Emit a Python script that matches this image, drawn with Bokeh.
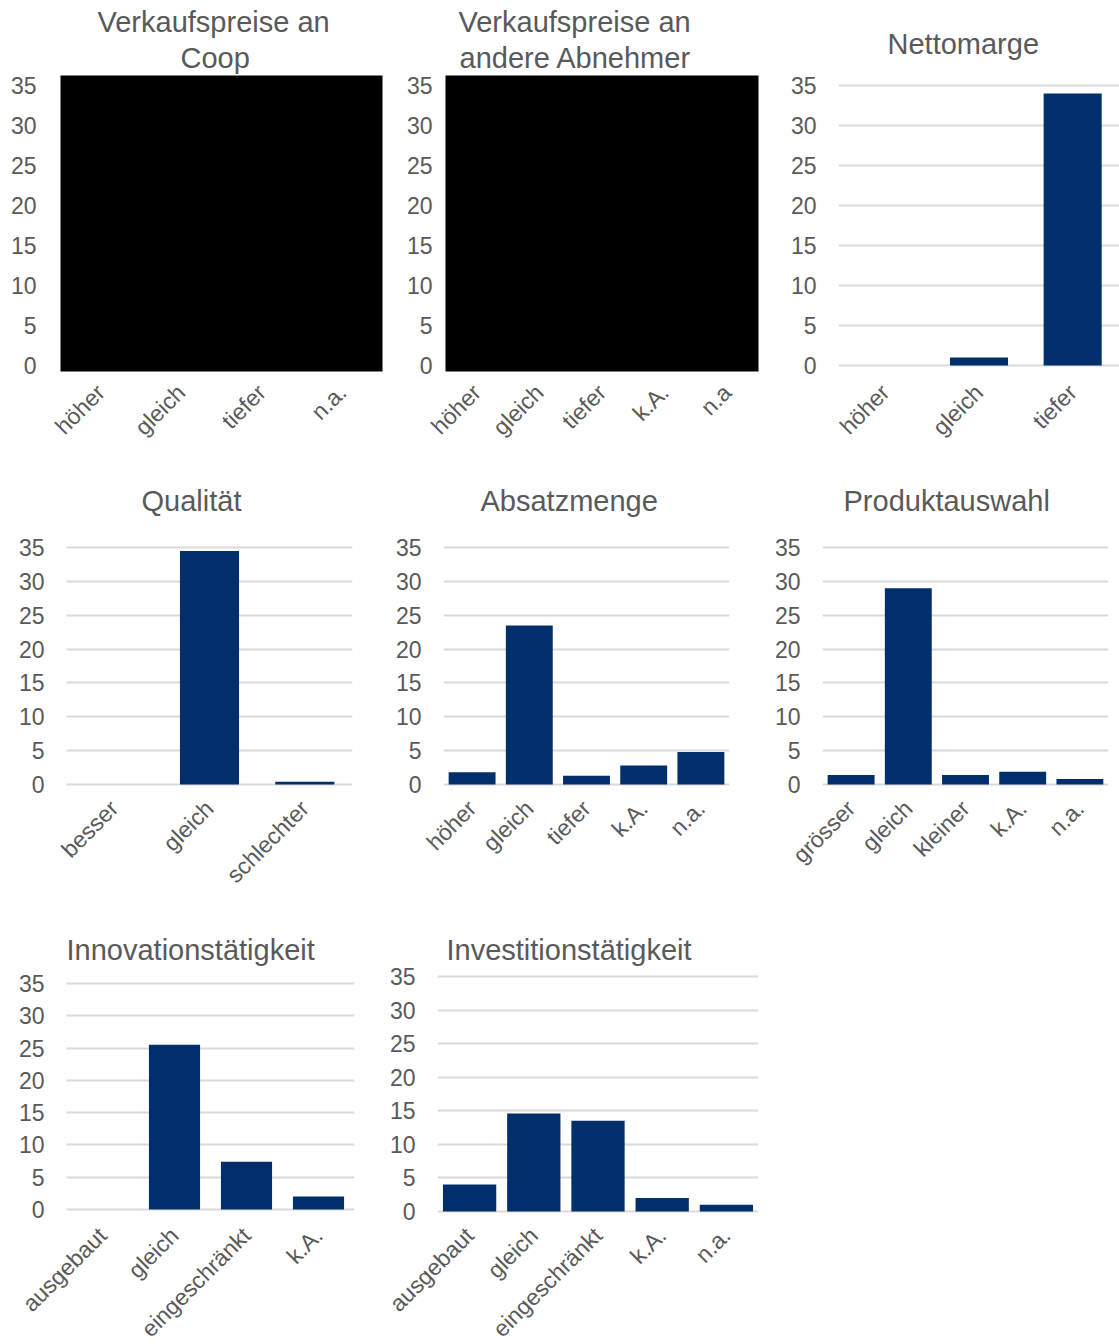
from math import pi
from bokeh.plotting import figure
from bokeh.models import FactorRange, Range1d, FixedTicker, Title, ColumnDataSource
from bokeh.layouts import column, row
from bokeh.embed import file_html
from bokeh.resources import INLINE

# ---------------- data ----------------
y_ticks = [0, 5, 10, 15, 20, 25, 30, 35]

coop_cats = ["höher", "gleich", "tiefer", "n.a."]
abnehmer_cats = ["höher", "gleich", "tiefer", "k.A.", "n.a"]

netto_cats = ["höher", "gleich", "tiefer"]
netto_vals = [0, 1, 34]

qual_cats = ["besser", "gleich", "schlechter"]
qual_vals = [0, 34.5, 0.4]

absatz_cats = ["höher", "gleich", "tiefer", "k.A.", "n.a."]
absatz_vals = [1.8, 23.5, 1.3, 2.8, 4.8]

prod_cats = ["grösser", "gleich", "kleiner", "k.A.", "n.a."]
prod_vals = [1.4, 29, 1.4, 1.9, 0.8]

innov_cats = ["ausgebaut", "gleich", "eingeschränkt", "k.A."]
innov_vals = [0, 25.5, 7.4, 2.0]

invest_cats = ["ausgebaut", "gleich", "eingeschränkt", "k.A.", "n.a."]
invest_vals = [4.0, 14.6, 13.5, 2.0, 1.0]

# ---------------- style ----------------
FONT = "Liberation Sans"
GRAY = "#595959"
BAR = "#002f6c"
GRID = "#d9d9d9"


def panel(titles, cats, vals, fw, fh, mbl, mbr, mbt, mbb, y0, y1, bw,
          toffs, tstand=(8, 0), ystand=22, redacted=False):
    p = figure(x_range=FactorRange(*cats), y_range=Range1d(y0, y1),
               frame_width=fw, frame_height=fh,
               min_border_left=mbl, min_border_right=mbr,
               min_border_top=mbt, min_border_bottom=mbb,
               output_backend="svg", toolbar_location=None,
               outline_line_color=None, background_fill_color="white",
               border_fill_color="white")
    # first title is the outermost; later ones are nearer the frame
    n = len(titles)
    for i, t in enumerate(titles):
        if i == 0:
            tt = p.title
            tt.text = t
        else:
            tt = Title(text=t)
            p.add_layout(tt, "above")
        tt.align = "left"
        tt.offset = toffs[i]
        tt.text_font = FONT
        tt.text_font_size = "29px"
        tt.text_font_style = "normal"
        tt.text_color = GRAY
        tt.standoff = tstand[0] if i == n - 1 else tstand[1]

    if redacted:
        p.background_fill_color = "black"
        p.ygrid.visible = False
    else:
        src = ColumnDataSource(dict(x=cats, top=vals))
        p.vbar(x="x", top="top", bottom=0, width=bw, source=src,
               fill_color=BAR, line_color=None)
        p.ygrid.grid_line_color = GRID
        p.ygrid.grid_line_width = 2
        p.ygrid.ticker = FixedTicker(ticks=y_ticks)
    p.xgrid.visible = False

    p.yaxis.ticker = FixedTicker(ticks=y_ticks)
    for ax in (p.xaxis[0], p.yaxis[0]):
        ax.axis_line_color = None
        ax.major_tick_line_color = None
        ax.minor_tick_line_color = None
        ax.major_tick_out = 0
        ax.major_tick_in = 0
        ax.major_label_text_font = FONT
        ax.major_label_text_color = GRAY
    p.yaxis.major_label_text_font_size = "23px"
    p.yaxis.major_label_standoff = ystand
    p.xaxis.major_label_text_font_size = "23px"
    p.xaxis.major_label_orientation = pi / 4
    p.xaxis.major_label_standoff = 17
    return p


# row 1 : frames y 75..371
r1 = dict(fh=296, mbt=75, mbb=80, y0=-0.75, y1=36.25)
p1 = panel(["Verkaufspreise an", "Coop"], coop_cats, [0] * 4,
           fw=322, mbl=60, mbr=18, bw=0.6, toffs=[37, 120],
           tstand=(4, 0), ystand=24, redacted=True, **r1)
p2 = panel(["Verkaufspreise an", "andere Abnehmer"], abnehmer_cats, [0] * 5,
           fw=313, mbl=45, mbr=20, bw=0.6, toffs=[13, 14],
           tstand=(4, 0), ystand=13, redacted=True, **r1)
p3 = panel(["Nettomarge"], netto_cats, netto_vals,
           fw=281, mbl=60, mbr=0, bw=0.62, toffs=[49], tstand=(32, 0), **r1)

# row 2 : frames y 545..787
r2 = dict(fh=242, mbt=93, mbb=117, y0=-0.44, y1=35.3, tstand=(57, 0))
p4 = panel(["Qualität"], qual_cats, qual_vals,
           fw=286, mbl=66, mbr=28, bw=0.62, toffs=[75], **r2)
p5 = panel(["Absatzmenge"], absatz_cats, absatz_vals,
           fw=286, mbl=63, mbr=31, bw=0.82, toffs=[37], **r2)
p6 = panel(["Produktauswahl"], prod_cats, prod_vals,
           fw=286, mbl=62, mbr=11, bw=0.82, toffs=[21], **r2)

# row 3 : frames y 972..1215
p7 = panel(["Innovationstätigkeit"], innov_cats, innov_vals,
           fw=288, fh=243, mbl=66, mbr=26, mbt=67, mbb=129,
           y0=-0.77, y1=36.86, bw=0.71, toffs=[0], tstand=(11, 0))
p8 = panel(["Investitionstätigkeit"], invest_cats, invest_vals,
           fw=321, fh=243, mbl=57, mbr=22, mbt=67, mbb=129,
           y0=-0.45, y1=35.74, bw=0.83, toffs=[9], tstand=(11, 0))

layout = column(row(p1, p2, p3, spacing=0),
                row(p4, p5, p6, spacing=0),
                row(p7, p8, spacing=0), spacing=0)

open("out.html", "w").write(file_html(layout, INLINE))
